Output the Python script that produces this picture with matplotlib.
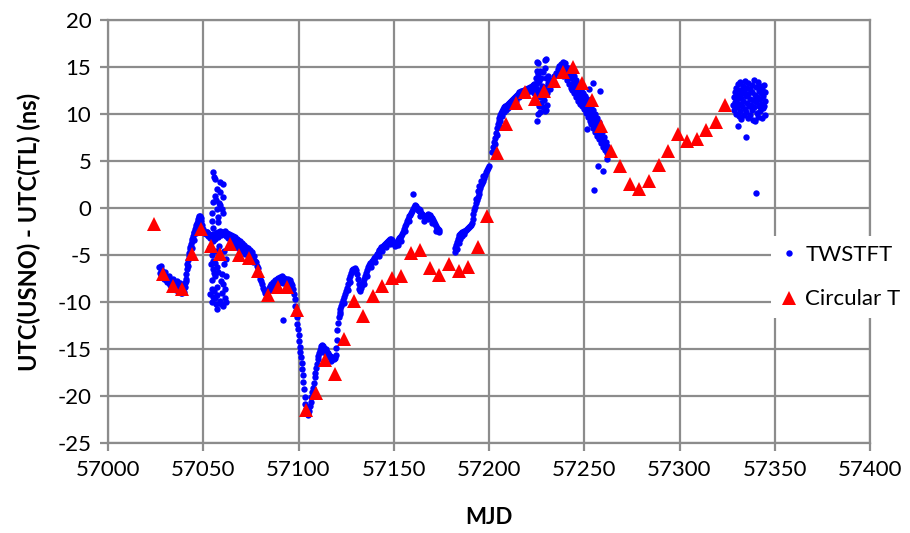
import matplotlib
matplotlib.use("Agg")
import matplotlib.pyplot as plt

plt.rcParams['font.family'] = ['Lato', 'DejaVu Sans']
plt.rcParams['axes.unicode_minus'] = False

# ---------------- Circular T (5-day points) ----------------
ct_mjd = [57024, 57029, 57034, 57039, 57044, 57049, 57054, 57059, 57064, 57069,
          57074, 57079, 57084, 57089, 57094, 57099, 57104, 57109, 57114, 57119,
          57124, 57129, 57134, 57139, 57144, 57149, 57154, 57159, 57164, 57169,
          57174, 57179, 57184, 57189, 57194, 57199, 57204, 57209, 57214, 57219,
          57224, 57229, 57234, 57239, 57244, 57249, 57254, 57259, 57264, 57269,
          57274, 57279, 57284, 57289, 57294, 57299, 57304, 57309, 57314, 57319,
          57324]
ct_ns = [-1.7, -7.0, -8.25, -8.6, -4.9, -2.2, -4.0, -4.9, -3.8, -4.95,
         -5.3, -6.65, -9.3, -8.4, -8.4, -10.8, -21.5, -19.7, -16.2, -17.7,
         -13.9, -9.85, -11.45, -9.4, -8.25, -7.4, -7.2, -4.8, -4.45, -6.35,
         -7.1, -5.95, -6.7, -6.3, -4.1, -0.9, 5.85, 8.9, 11.2, 12.35,
         11.55, 12.45, 13.5, 14.5, 14.95, 13.25, 11.5, 8.7, 6.05, 4.45,
         2.6, 2.0, 2.9, 4.55, 6.1, 7.9, 7.15, 7.35, 8.35, 9.1,
         11.0]

# ---------------- TWSTFT, (MJD, ns) by stretch ----------------
tw_early = [
    (57027.0, -6.3), (57027.3, -6.9), (57027.6, -6.5), (57028.0, -7.1), (57028.3, -6.7),
    (57028.6, -7.3), (57029.0, -6.9), (57029.4, -7.5), (57029.8, -7.1), (57030.2, -7.7),
    (57030.6, -7.3), (57031.0, -7.9), (57031.4, -7.5), (57031.8, -8.0), (57032.2, -7.6),
    (57032.6, -8.2), (57033.0, -7.8), (57033.4, -8.4), (57033.8, -7.9), (57034.2, -8.5),
    (57034.6, -8.0), (57035.0, -8.6), (57035.4, -8.1), (57035.8, -8.7), (57036.2, -8.2),
    (57036.6, -8.8), (57037.0, -8.3), (57037.4, -8.9), (57037.8, -8.4), (57038.2, -9.0),
    (57038.6, -8.5), (57039.0, -9.0), (57039.4, -8.6), (57039.8, -8.9), (57040.2, -8.4),
    (57040.5, -8.0), (57040.8, -7.5), (57041.1, -7.0), (57041.4, -6.5), (57041.7, -6.0),
    (57042.0, -5.5), (57042.3, -5.1), (57042.6, -4.8), (57043.0, -4.4), (57043.3, -4.1),
    (57043.6, -3.8), (57044.0, -3.5), (57044.3, -3.3), (57044.6, -3.0), (57045.0, -2.7),
    (57045.3, -2.5), (57045.6, -2.2), (57046.0, -2.0), (57046.3, -1.8), (57046.6, -1.6),
    (57047.0, -1.4), (57047.3, -1.2), (57047.6, -1.0), (57048.0, -0.9), (57048.3, -0.9),
    (57048.6, -1.1), (57049.0, -1.4), (57049.4, -1.8), (57049.8, -2.2), (57050.2, -2.5),
    (57050.6, -2.7), (57051.0, -2.5), (57051.4, -2.8), (57051.8, -2.6),
    (57041.0, -7.8), (57042.0, -6.2), (57043.0, -5.2), (57044.0, -4.3), (57045.0, -3.4),
    (57046.0, -2.7), (57047.0, -2.1), (57028.0, -6.2), (57030.0, -6.8), (57032.0, -7.2),
    (57034.0, -7.5), (57036.0, -7.8), (57038.0, -8.0),
]

tw_jump = [
    (57053.5, -4.2), (57054.0, -6.0), (57054.4, -0.5), (57054.4, -7.7), (57054.4, -10.0),
    (57054.8, -5.0), (57055.0, -6.5), (57055.3, 3.8), (57055.3, 0.6), (57055.3, -2.1),
    (57055.3, -3.5), (57055.3, -5.6), (57055.3, -9.5), (57055.6, 3.3), (57055.8, -8.8),
    (57056.0, 1.3), (57056.2, 3.1), (57056.2, -7.2), (57056.5, -10.2), (57056.6, -4.6),
    (57057.0, 2.0), (57057.0, -0.1), (57057.0, -6.3), (57057.0, -8.4), (57057.0, -10.7),
    (57057.4, -9.3), (57057.6, -1.5), (57057.9, -1.0), (57058.2, 0.5), (57058.4, -4.0),
    (57058.8, 2.8), (57058.8, 1.7), (57058.8, -5.2), (57058.8, -9.9), (57059.2, -7.8),
    (57059.7, -0.1), (57059.7, -7.0), (57060.0, -9.0), (57060.2, 1.2), (57060.5, 2.6),
    (57060.5, -0.5), (57060.5, -8.1), (57060.5, -10.4), (57060.8, -6.0), (57061.0, -4.6),
    (57061.5, -9.6), (57061.8, -7.2), (57062.2, -5.4), (57054.6, -8.6), (57056.0, -9.6),
    (57059.5, -10.2), (57055.7, -6.9), (57058.0, -6.8), (57061.2, -8.6), (57056.8, 0.9),
    (57054.8, -1.4), (57059.0, 0.3), (57056.4, -5.8), (57053.8, -9.2), (57062.0, -10.0),
]

tw_spring = [
    (57052.0, -2.6), (57052.5, -3.0), (57053.0, -2.8), (57053.5, -3.2), (57054.0, -2.9),
    (57054.5, -3.1), (57055.0, -2.8), (57055.5, -2.9), (57056.0, -3.3), (57056.5, -2.7),
    (57057.0, -2.8), (57057.5, -3.1), (57058.0, -2.6), (57058.5, -2.8), (57059.0, -2.4),
    (57059.5, -2.9), (57060.0, -2.5), (57060.5, -2.8), (57061.0, -2.7), (57061.5, -2.4),
    (57062.0, -3.0), (57062.5, -2.7), (57063.0, -3.2), (57063.5, -2.8), (57064.0, -3.3),
    (57064.5, -2.9), (57065.0, -3.4), (57065.5, -3.0), (57066.0, -3.5), (57066.5, -3.1),
    (57067.0, -3.6), (57067.5, -3.3), (57068.0, -3.8), (57068.5, -3.4), (57069.0, -3.9),
    (57069.5, -3.5), (57070.0, -4.0), (57070.5, -3.7), (57071.0, -4.2), (57071.5, -3.9),
    (57072.0, -4.4), (57072.5, -4.1), (57073.0, -4.6), (57073.5, -4.3), (57074.0, -4.8),
    (57074.5, -4.5), (57075.0, -5.0), (57075.5, -4.7), (57076.0, -5.2), (57076.5, -5.1),
    (57077.0, -5.6), (57077.5, -5.7), (57078.0, -6.2), (57078.5, -6.4), (57079.0, -6.8),
    (57079.5, -7.1), (57080.0, -7.5), (57080.5, -7.8), (57081.0, -8.1), (57081.5, -8.5),
    (57082.0, -8.7), (57082.5, -9.0), (57083.0, -9.2), (57083.5, -9.0), (57084.0, -8.8),
    (57084.5, -8.5), (57085.0, -8.3), (57085.5, -8.1), (57086.0, -8.2), (57086.5, -7.9),
    (57087.0, -8.0), (57087.5, -7.7), (57088.0, -7.8), (57088.5, -7.5), (57089.0, -7.7),
    (57089.5, -7.4), (57090.0, -7.6), (57090.5, -7.3), (57091.0, -7.5), (57091.5, -7.2),
    (57092.0, -7.5), (57092.5, -7.4), (57093.0, -7.7), (57093.5, -7.5), (57094.0, -7.8),
    (57094.5, -7.6), (57095.0, -7.9), (57095.5, -7.7), (57096.0, -8.0), (57096.5, -8.2),
    (57097.0, -8.6), (57097.5, -9.1), (57091.7, -11.9),
    (57064.0, -3.8), (57066.0, -4.0), (57068.0, -4.3), (57070.0, -4.6), (57072.0, -4.9),
    (57074.0, -5.3), (57076.0, -5.7), (57086.0, -8.7), (57088.0, -8.3), (57090.0, -8.0),
    (57092.0, -8.0), (57094.0, -8.3),
]

tw_dip = [
    (57098.0, -9.7), (57098.3, -10.4), (57098.6, -11.0), (57099.0, -11.6), (57099.3, -12.3),
    (57099.6, -12.9), (57100.0, -13.5), (57100.3, -14.1), (57100.7, -14.8), (57101.0, -15.3),
    (57101.3, -15.9), (57101.6, -16.5), (57102.0, -17.1), (57102.3, -17.8), (57102.6, -18.5),
    (57103.0, -19.3), (57103.3, -20.1), (57103.6, -20.8), (57104.0, -21.4), (57104.4, -21.8),
    (57104.8, -22.0), (57105.2, -21.9), (57105.6, -21.6), (57106.0, -21.1), (57106.4, -20.6),
    (57106.8, -20.1), (57107.2, -19.6), (57107.6, -19.1), (57108.0, -18.6), (57108.4, -18.0),
    (57108.8, -17.5), (57109.2, -17.0), (57109.6, -16.6), (57110.0, -16.1), (57110.4, -15.7),
    (57110.8, -15.4), (57111.2, -15.1), (57111.6, -14.9), (57112.0, -14.7), (57112.5, -14.6),
    (57113.0, -14.7), (57113.5, -14.9), (57114.0, -15.1), (57114.5, -15.0), (57115.0, -15.3),
    (57115.5, -15.4), (57116.0, -15.6), (57116.5, -15.7), (57117.0, -15.9), (57117.5, -15.8),
    (57118.0, -16.0), (57118.5, -16.1), (57119.0, -16.0), (57119.5, -15.6), (57119.8, -14.9),
    (57120.1, -14.0), (57120.4, -13.0), (57120.8, -12.2), (57121.2, -11.6), (57121.6, -11.1),
    (57122.0, -10.7), (57122.5, -10.4), (57123.0, -10.1), (57123.5, -9.8), (57124.0, -9.5),
    (57124.5, -9.2), (57125.0, -8.8), (57125.5, -8.5), (57126.0, -8.1), (57126.5, -7.6),
    (57127.0, -7.2), (57127.5, -6.9), (57128.0, -6.6), (57128.5, -6.5), (57129.0, -6.7),
    (57129.5, -6.4), (57130.0, -6.6), (57130.5, -7.0), (57131.0, -7.5), (57131.5, -8.1),
    (57132.0, -8.6), (57132.5, -8.8), (57133.0, -8.5), (57133.5, -8.2), (57134.0, -7.9),
    (57134.5, -7.5), (57135.0, -7.2), (57135.5, -6.9), (57136.0, -6.6), (57136.5, -6.3),
    (57137.0, -6.1), (57137.5, -5.9), (57138.0, -5.8), (57138.5, -5.6), (57139.0, -5.5),
    (57139.5, -5.3), (57140.0, -5.2), (57140.5, -5.1), (57141.0, -4.9), (57141.5, -4.8),
    (57142.0, -4.6), (57142.5, -4.5), (57143.0, -4.4), (57143.5, -4.2), (57144.0, -4.1),
    (57144.5, -4.0), (57145.0, -3.9), (57145.5, -3.8), (57146.0, -3.7), (57146.5, -3.6),
    (57147.0, -3.5), (57147.5, -3.4), (57148.0, -3.3), (57148.5, -3.3), (57149.0, -3.4),
    (57149.5, -3.6), (57150.0, -3.8), (57150.5, -4.0), (57151.0, -3.8), (57151.5, -3.6),
    (57152.0, -3.4), (57152.5, -3.3), (57153.0, -3.2), (57153.5, -3.1), (57154.0, -3.0),
    (57154.5, -2.8), (57155.0, -2.5), (57155.5, -2.2), (57156.0, -1.9), (57156.5, -1.7),
    (57157.0, -1.4), (57157.5, -1.2), (57158.0, -0.9), (57158.5, -0.7), (57159.0, -0.5),
    (57159.5, -0.3), (57160.0, -0.1), (57160.3, 1.5), (57160.5, 0.1), (57161.0, 0.3),
    (57161.5, 0.2), (57162.0, 0.0), (57162.5, -0.2), (57163.0, -0.1), (57163.5, -0.3),
    (57164.0, -0.2), (57164.5, -0.5), (57165.0, -0.6), (57165.5, -0.8), (57166.0, -0.9),
    (57166.5, -1.0), (57167.0, -0.8), (57167.5, -0.7), (57168.0, -0.6), (57168.5, -0.8),
    (57169.0, -0.7), (57169.5, -1.0), (57170.0, -1.1), (57170.5, -1.3), (57171.0, -1.5),
    (57171.5, -1.7), (57172.0, -1.9), (57172.5, -2.1), (57173.0, -2.2), (57173.5, -2.3),
    (57174.0, -2.5),
    (57126.0, -8.7), (57127.0, -7.9), (57134.5, -8.1), (57136.0, -7.2), (57138.0, -6.3),
    (57140.0, -5.7), (57142.0, -5.1), (57144.0, -4.6), (57146.0, -4.2), (57148.0, -3.8),
    (57152.0, -3.9), (57154.0, -3.5), (57156.0, -2.4), (57158.0, -1.4), (57164.0, -0.8),
    (57166.0, -1.4), (57168.0, -1.2), (57170.0, -1.6), (57172.0, -2.4),
    (57113.0, -15.3), (57115.0, -15.8), (57117.0, -16.3), (57122.0, -11.3), (57124.0, -10.1),
]

tw_summer = [
    (57182.0, -4.7), (57182.3, -4.3), (57182.6, -3.9), (57183.0, -3.6), (57183.5, -3.3),
    (57184.0, -3.1), (57184.5, -2.9), (57185.0, -2.8), (57185.5, -2.7), (57186.0, -2.6),
    (57186.5, -2.5), (57187.0, -2.4), (57187.5, -2.4), (57188.0, -2.3), (57188.5, -2.2),
    (57189.0, -2.1), (57189.5, -2.0), (57190.0, -1.9), (57190.5, -1.8), (57191.0, -1.6),
    (57191.5, -1.2), (57191.8, -0.6), (57192.1, -0.2), (57192.5, 0.1), (57193.0, 0.5),
    (57193.5, 0.9), (57194.0, 1.2), (57194.5, 1.5), (57195.0, 1.8), (57195.5, 2.1),
    (57196.0, 2.4), (57196.5, 2.7), (57197.0, 2.9), (57197.5, 3.2), (57198.0, 3.5),
    (57198.5, 3.8), (57199.0, 4.0), (57199.5, 4.3), (57200.0, 4.5),
    (57183.0, -4.4), (57184.0, -3.7), (57185.0, -3.3), (57186.0, -3.0), (57187.0, -2.8),
    (57193.0, 1.0), (57194.0, 1.8), (57195.0, 2.3), (57196.0, 2.9), (57197.0, 3.4),
    (57201.8, 6.0), (57202.2, 6.5), (57202.6, 7.0), (57203.0, 7.5), (57203.5, 8.0),
    (57204.0, 8.5), (57204.5, 8.9), (57205.0, 9.3), (57205.5, 9.6), (57206.0, 9.9),
    (57206.5, 10.1), (57207.0, 10.3), (57207.5, 10.5), (57208.0, 10.7), (57208.5, 10.8),
    (57209.0, 10.9), (57209.5, 11.0), (57210.0, 11.1), (57210.5, 11.2), (57211.0, 11.3),
    (57211.5, 11.4), (57212.0, 11.5), (57212.5, 11.6), (57213.0, 11.7), (57213.5, 11.8),
    (57214.0, 11.9), (57214.5, 12.0), (57215.0, 12.1), (57215.5, 12.2), (57216.0, 12.3),
    (57216.5, 12.3), (57217.0, 12.4), (57217.5, 12.5), (57218.0, 12.5), (57218.5, 12.6),
    (57219.0, 12.6), (57219.5, 12.7), (57220.0, 12.7), (57220.5, 12.8), (57221.0, 12.8),
    (57221.5, 12.9), (57222.0, 12.9), (57222.5, 13.0), (57223.0, 13.1), (57223.5, 13.2),
    (57224.0, 13.2),
    (57203.0, 6.8), (57204.0, 7.8), (57205.0, 8.7), (57206.0, 9.3), (57207.0, 9.8),
    (57208.0, 10.2), (57209.0, 10.4), (57210.0, 10.6), (57212.0, 11.0), (57214.0, 11.4),
    (57216.0, 11.8), (57218.0, 12.0), (57220.0, 12.2), (57222.0, 12.4),
]

tw_peak = [
    (57224.5, 13.8), (57225.0, 14.6), (57225.0, 15.5), (57225.5, 15.4), (57225.9, 14.3),
    (57226.2, 13.5), (57226.5, 12.6), (57226.8, 11.8), (57226.8, 10.2), (57225.4, 9.25),
    (57225.8, 10.0), (57226.3, 10.8), (57227.5, 11.2), (57227.8, 12.1), (57228.0, 13.0),
    (57228.5, 10.75), (57228.8, 11.5), (57229.0, 12.4), (57229.4, 15.7), (57229.9, 15.8),
    (57229.6, 14.9), (57229.8, 13.8), (57230.0, 12.9), (57230.3, 12.2), (57230.5, 11.0),
    (57229.9, 10.4), (57230.8, 13.3), (57231.0, 14.0), (57231.5, 13.6), (57231.8, 12.7),
    (57232.0, 13.1), (57224.8, 12.8), (57225.2, 13.3), (57226.0, 12.0), (57227.2, 13.8),
    (57228.2, 14.5), (57229.2, 10.3), (57224.0, 12.4), (57223.5, 12.2), (57227.0, 14.6),
    (57233.0, 13.6), (57234.0, 14.0), (57235.0, 14.4), (57236.0, 14.8), (57237.0, 15.1),
    (57238.0, 15.3), (57239.0, 15.5), (57240.0, 15.4),
]

tw_fall = [
    (57238.5, 14.5), (57239.0, 14.0), (57239.5, 14.8), (57240.0, 14.3), (57240.5, 15.0),
    (57240.8, 13.6), (57241.0, 14.6), (57241.5, 13.9), (57241.8, 14.9), (57242.0, 13.2),
    (57242.5, 14.3), (57242.8, 12.8), (57243.0, 13.8), (57243.5, 14.5), (57243.8, 12.6),
    (57244.0, 13.3), (57244.5, 14.0), (57244.8, 12.2), (57245.0, 12.9), (57245.5, 13.6),
    (57245.8, 11.8), (57246.0, 12.5), (57246.5, 13.2), (57246.8, 11.4), (57247.0, 12.1),
    (57247.5, 12.8), (57247.8, 11.1), (57248.0, 11.8), (57248.5, 12.5), (57248.8, 10.8),
    (57249.0, 11.5), (57249.5, 12.2), (57249.8, 10.5), (57250.0, 11.2), (57250.5, 11.9),
    (57250.8, 10.1), (57251.0, 10.9), (57251.5, 11.6), (57251.8, 9.7), (57252.0, 10.5),
    (57252.5, 11.2), (57252.8, 9.3), (57253.0, 10.1), (57253.5, 10.8), (57253.8, 8.9),
    (57254.0, 9.7), (57254.5, 10.4), (57254.8, 8.5), (57255.0, 9.3), (57255.5, 10.0),
    (57255.8, 8.1), (57256.0, 8.9), (57256.5, 9.6), (57256.8, 7.7), (57257.0, 8.5),
    (57257.5, 9.1), (57257.8, 7.3), (57258.0, 8.1), (57258.5, 8.6), (57258.8, 6.9),
    (57259.0, 7.6), (57259.5, 8.1), (57259.8, 6.5), (57260.0, 7.2), (57260.5, 7.6),
    (57260.8, 6.2), (57261.0, 6.8), (57261.5, 7.0), (57261.8, 5.9), (57262.0, 6.3),
    (57258.3, 12.5), (57254.8, 13.25), (57252.7, 12.7), (57257.4, 4.5), (57259.7, 3.95),
    (57255.3, 1.9), (57251.3, 8.45), (57262.0, 5.25), (57261.8, 6.6),
]

tw_late = [
    (57328.2, 11.0), (57328.5, 11.8), (57328.8, 10.4), (57329.0, 12.3), (57329.3, 11.3),
    (57329.6, 10.0), (57329.8, 12.8), (57330.0, 11.6), (57330.2, 10.7), (57330.5, 13.2),
    (57330.6, 8.75), (57330.8, 12.0), (57331.0, 9.8), (57331.2, 11.1), (57331.5, 12.6),
    (57331.8, 10.3), (57332.0, 13.4), (57332.2, 11.7), (57332.5, 9.5), (57332.8, 12.2),
    (57333.0, 10.9), (57333.2, 13.0), (57333.5, 11.4), (57333.8, 9.9), (57334.0, 12.5),
    (57334.2, 10.5), (57334.5, 13.5), (57334.8, 11.9), (57335.0, 7.6), (57335.0, 10.2),
    (57335.3, 12.8), (57335.5, 11.2), (57335.8, 9.6), (57336.0, 12.1), (57336.2, 13.3),
    (57336.5, 10.8), (57336.8, 11.6), (57337.0, 9.9), (57337.2, 12.7), (57337.5, 11.0),
    (57337.8, 13.1), (57338.0, 10.4), (57338.2, 12.3), (57338.5, 9.4), (57338.8, 11.5),
    (57339.0, 13.6), (57339.2, 10.7), (57339.5, 12.0), (57339.8, 9.3), (57340.0, 1.6),
    (57340.0, 11.3), (57340.2, 12.9), (57340.5, 10.1), (57340.8, 11.8), (57341.0, 13.4),
    (57341.2, 9.7), (57341.5, 12.4), (57341.8, 10.9), (57342.0, 11.6), (57342.2, 13.0),
    (57342.5, 10.3), (57342.8, 12.2), (57343.0, 11.1), (57343.2, 9.6), (57343.5, 12.7),
    (57343.8, 10.6), (57344.0, 11.9), (57344.2, 13.1), (57344.5, 10.9), (57344.8, 12.3),
    (57345.0, 11.4), (57345.0, 9.9),
]

twstft = tw_early + tw_jump + tw_spring + tw_dip + tw_summer + tw_peak + tw_fall + tw_late
tw_mjd = [p[0] for p in twstft]
tw_ns = [p[1] for p in twstft]

x_ticks = [57000, 57050, 57100, 57150, 57200, 57250, 57300, 57350, 57400]
y_ticks = [20, 15, 10, 5, 0, -5, -10, -15, -20, -25]

grid_col = '#8c8c8c'
text_col = '#000000'
fs = 16

fig = plt.figure(figsize=(9.10, 5.33), dpi=100)
ax = fig.add_axes([108 / 910, 1 - 443 / 533, 762 / 910, 423 / 533])

ax.plot(tw_mjd, tw_ns, linestyle='none', marker='o', markersize=4.6,
        color='#0000ff', markeredgewidth=0, label='TWSTFT', zorder=3)
ax.plot(ct_mjd, ct_ns, linestyle='none', marker='^', markersize=9.5,
        color='#ff0000', markeredgewidth=0, label='Circular T', zorder=4)

ax.set_xlim(57000, 57400)
ax.set_ylim(-25, 20)
ax.set_xticks(x_ticks)
ax.set_yticks(y_ticks)
ax.grid(True, color=grid_col, linewidth=1.6)
ax.set_axisbelow(True)
for s in ax.spines.values():
    s.set_color(grid_col)
    s.set_linewidth(1.6)
ax.tick_params(axis='both', colors=grid_col, width=1.6, length=6,
               labelsize=fs, labelcolor=text_col, pad=6)

ax.set_xlabel('MJD', fontsize=fs, fontweight='bold', color=text_col, labelpad=20)
ax.set_ylabel('UTC(USNO) - UTC(TL) (ns)', fontsize=17, fontweight='bold',
              color=text_col, labelpad=12)

leg = ax.legend(loc='upper left', bbox_to_anchor=(771 / 910, 1 - 236 / 533),
                bbox_transform=fig.transFigure, borderaxespad=0,
                frameon=True, fancybox=False,
                facecolor='white', edgecolor='none', framealpha=1,
                fontsize=fs, labelspacing=1.1, handlelength=0.8,
                handletextpad=0.35, borderpad=0.4, markerscale=1.0)
leg.set_zorder(10)
for t in leg.get_texts():
    t.set_color(text_col)

fig.savefig('out.png', dpi=100)
